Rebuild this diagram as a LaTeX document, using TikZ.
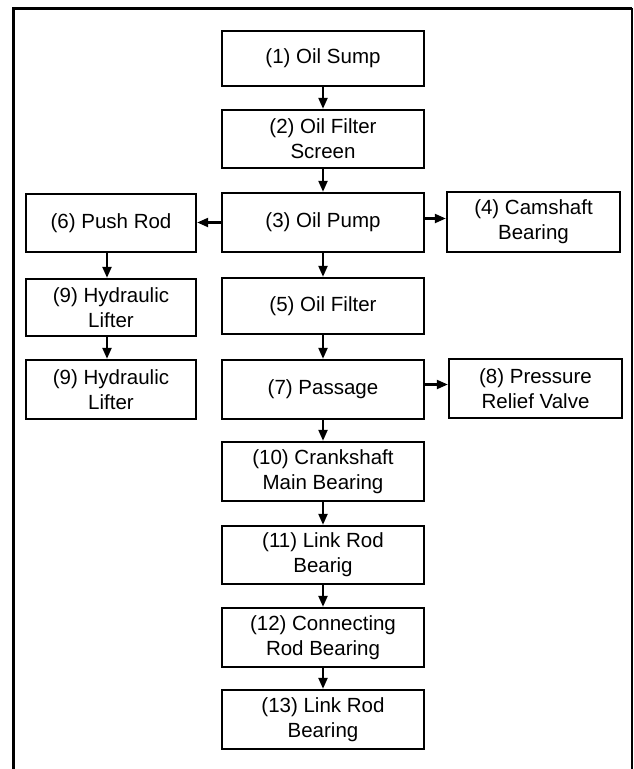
\documentclass[tikz,border=0pt]{standalone}
\usepackage{fontspec}
\setmainfont{Liberation Sans}
\usetikzlibrary{arrows.meta,calc}
\begin{document}
\begin{tikzpicture}[x=1pt,y=-1pt,
  box/.style={draw=black,line width=2.4pt,fill=white,align=center,inner sep=0pt,
    font=\fontsize{20.5}{25}\selectfont,minimum height=58pt},
  mid/.style={box,minimum width=202pt},
  lft/.style={box,minimum width=170pt},
  rgt/.style={box,minimum width=173pt},
  arr/.style={line width=2.2pt,-{Triangle[length=11pt,width=9pt]}}]
\useasboundingbox (0,0) rectangle (633,769);
% frame
\draw[line width=3pt] (13,769) -- (13,8) -- (632,8);
\draw[line width=1.2pt] (632,8) -- (632,769);
% nodes
\node[mid,minimum height=55pt] (b1) at (323,58.5) {(1) Oil Sump};
\node[mid] (b2) at (323,139) {(2) Oil Filter\\Screen};
\node[mid,minimum height=59pt] (b3) at (323,222.5) {(3) Oil Pump};
\node[lft] (b6) at (111,223) {(6) Push Rod};
\node[rgt,minimum height=60pt] (b4) at (533.5,222) {(4) Camshaft\\Bearing};
\node[lft,minimum height=57pt] (b9a) at (111,307.5) {(9) Hydraulic\\Lifter};
\node[mid,minimum height=56pt] (b5) at (323,306) {(5) Oil Filter};
\node[lft,minimum height=59pt] (b9b) at (111,389.5) {(9) Hydraulic\\Lifter};
\node[mid,minimum height=59pt] (b7) at (323,389.5) {(7) Passage};
\node[rgt,minimum height=59pt] (b8) at (535.5,388.5) {(8) Pressure\\Relief Valve};
\node[mid,minimum height=59pt] (b10) at (323,471.5) {(10) Crankshaft\\Main Bearing};
\node[mid] (b11) at (323,555) {(11) Link Rod\\Bearig};
\node[mid,minimum height=59pt] (b12) at (323,637.5) {(12) Connecting\\Rod Bearing};
\node[mid,minimum height=59pt] (b13) at (323,719.5) {(13) Link Rod\\Bearing};
% connectors
\draw[arr] (b1.south) -- (b2.north);
\draw[arr] (b2.south) -- (b3.north);
\draw[arr] (b3.west) -- (b3.west -| b6.east);
\draw[arr] ([yshift=4pt]b3.east) -- ([yshift=4pt]b3.east -| b4.west);
\draw[arr] (b3.south) -- (b5.north);
\draw[arr] ([xshift=-4pt]b6.south) -- ([xshift=-4pt]b6.south |- b9a.north);
\draw[arr] ([xshift=-4pt]b9a.south) -- ([xshift=-4pt]b9a.south |- b9b.north);
\draw[arr] (b5.south) -- (b7.north);
\draw[arr] ([yshift=5pt]b7.east) -- ([yshift=5pt]b7.east -| b8.west);
\draw[arr] (b7.south) -- (b10.north);
\draw[arr] (b10.south) -- (b11.north);
\draw[arr] (b11.south) -- (b12.north);
\draw[arr] (b12.south) -- (b13.north);
\end{tikzpicture}
\end{document}
